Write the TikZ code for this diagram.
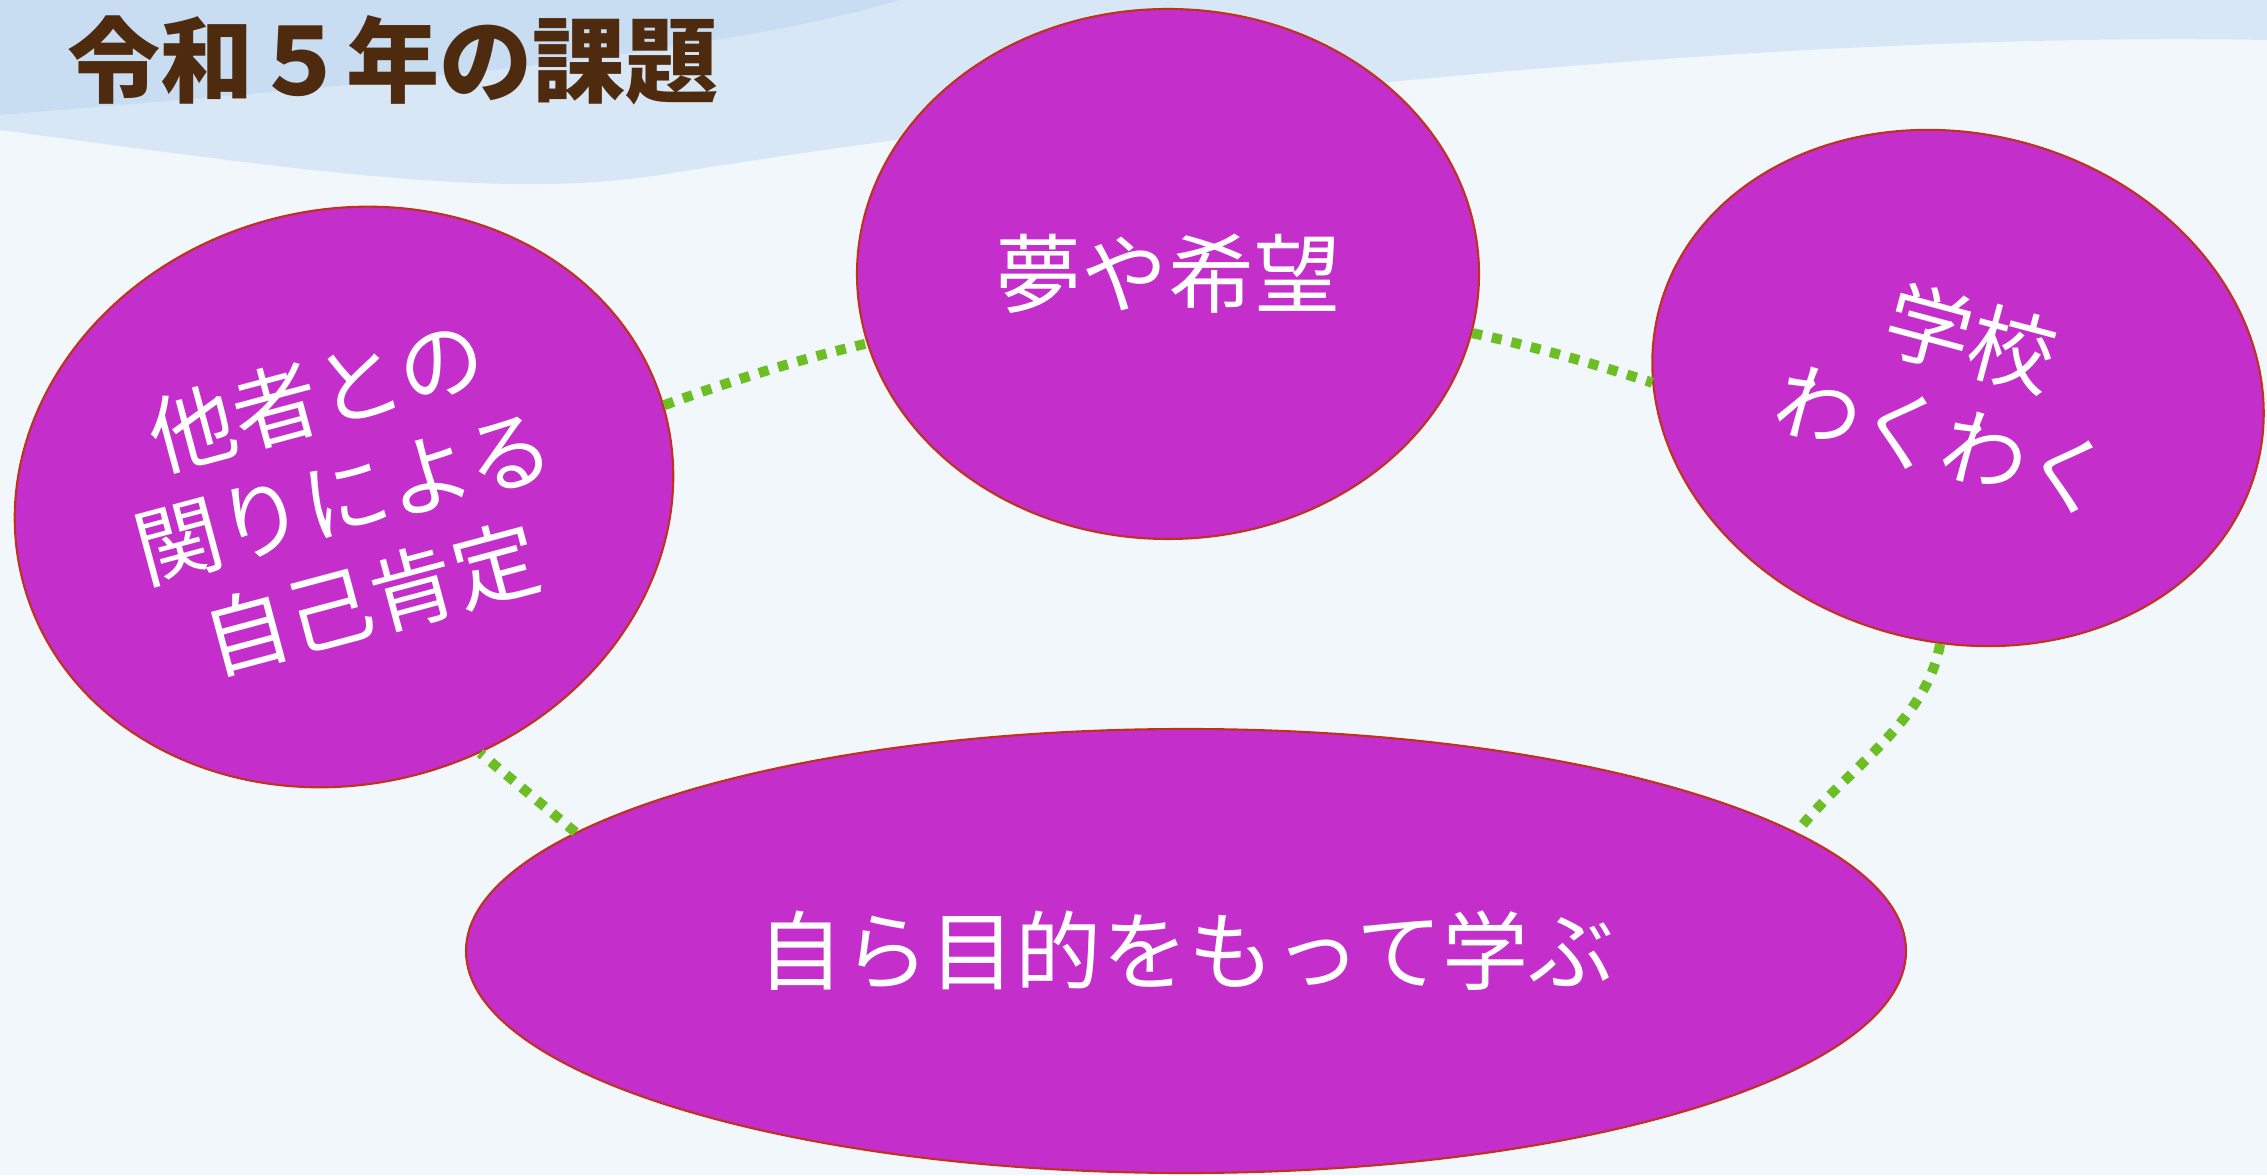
\documentclass[tikz,border=0pt]{standalone}
\usepackage{fontspec}
\usepackage{tikz}
\usetikzlibrary{shapes.geometric}
\newfontfamily\jp{Noto Sans CJK JP}
\definecolor{bubblefill}{RGB}{196,46,202}
\definecolor{bubbleline}{RGB}{190,50,30}
\definecolor{linkgreen}{RGB}{108,190,36}
\definecolor{titlebrown}{RGB}{78,42,14}
\definecolor{skyback}{RGB}{242,247,252}
\definecolor{skyband}{RGB}{216,231,246}
\definecolor{skydeep}{RGB}{200,221,242}

\begin{document}
\begin{tikzpicture}[
    bubble/.style={draw=bubbleline, line width=0.6pt, fill=bubblefill, ellipse, inner sep=0pt, text=white, align=center, font=\jp\fontsize{24.5}{30}\selectfont},
    link/.style={draw=linkgreen, line width=2.85pt, dash pattern=on 2.85pt off 2.85pt}]
    \useasboundingbox (0,0) rectangle (22.67,11.75);
    % background, light sky with waves on top
    \fill [skyback] (0,0) rectangle (22.67,11.75);
    \fill [skyband] (0,11.75) -- (22.67,11.75) -- (22.67,11.35) .. controls (17,11.45) and (10,10.55) .. (6.6,10.0) .. controls (5,9.75) and (3,10.05) .. (0,10.45) -- cycle;
    \fill [skydeep] (0,11.75) -- (9,11.75) .. controls (7,11.15) and (3,10.85) .. (0,10.6) -- cycle;

    \node [font=\jp\bfseries\fontsize{26.5}{30}\selectfont, text=titlebrown] (title) at (3.93,11.15) {令和５年の課題};

    \node [bubble, minimum width=6.64cm, minimum height=5.74cm, rotate=15] (others) at (3.44,6.78) {他者との\\関りによる\\自己肯定};
    \node [bubble, minimum width=6.22cm, minimum height=5.30cm] (dream) at (11.68,9.01) {夢や希望};
    \node [bubble, minimum width=6.18cm, minimum height=5.08cm, rotate=-15] (school) at (19.58,7.87) {学校\\わくわく};
    \node [bubble, minimum width=14.40cm, minimum height=4.44cm] (learn) at (11.86,2.24) {自ら目的をもって学ぶ};

    \draw [link] (others.1) .. controls +(20:0.7) and +(193:0.7) .. (dream.193);
    \draw [link] (dream.-11) .. controls +(-12:0.6) and +(162:0.6) .. (school.194);
    \draw [link] (school.281) .. controls +(260:0.8) and +(52:0.8) .. (learn.11);
    \draw [link] (learn.169) -- (others.283);
\end{tikzpicture}
\end{document}
